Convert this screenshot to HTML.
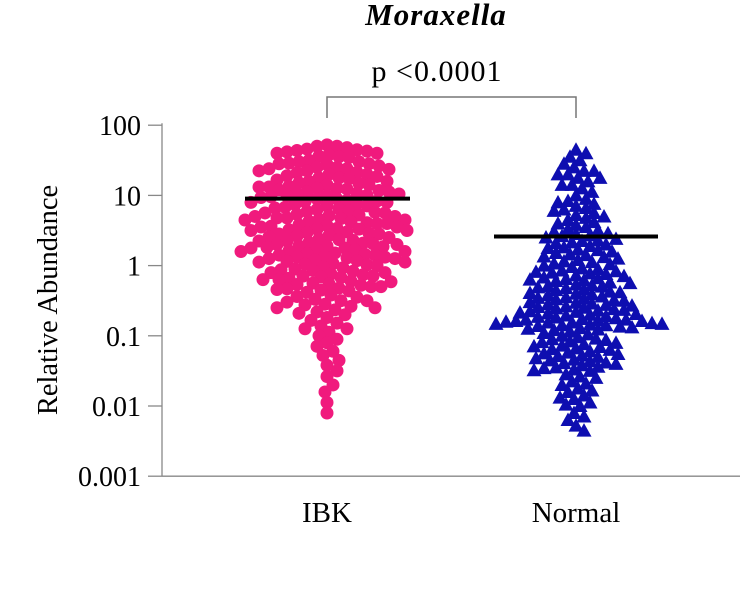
<!DOCTYPE html>
<html><head><meta charset="utf-8"><style>
body{margin:0;background:#fff}
svg{display:block;font-family:"Liberation Serif",serif}
</style></head><body>
<svg id="chart" width="744" height="602" viewBox="0 0 744 602">
<text x="436" y="25" text-anchor="middle" font-size="31" font-weight="bold" font-style="italic" letter-spacing="1">Moraxella</text>
<text x="437" y="81" text-anchor="middle" font-size="30" letter-spacing="1">p &lt;0.0001</text>
<path d="M327 118 V97 H576 V118" fill="none" stroke="#777" stroke-width="1.5"/>
<g id="axes"></g>
<g id="marks"></g>
<text transform="translate(57,300) rotate(-90)" text-anchor="middle" font-size="28.5">Relative Abundance</text>
</svg>
<script>
const categories = ["IBK","Normal"];
const tickValues = [100,10,1,0.1,0.01,0.001];
const tickLabels = ["100","10","1","0.1","0.01","0.001"];
const ibkMean = 9;
const normalMean = 2.6;
// log10 relative abundance values
const ibkLog = [1.72,1.7,1.68,1.66,1.65,1.64,1.63,1.62,1.6,1.58,1.56,1.55,1.54,1.7,1.6,
1.5,1.48,1.46,1.45,1.44,1.42,1.4,1.38,1.37,1.35,1.33,1.32,1.3,1.28,1.27,1.25,1.24,1.22,1.2,1.45,1.4,1.35,1.3,1.25,1.2,1.48,1.38,
1.18,1.15,1.12,1.1,1.08,1.05,1.02,1.0,0.98,0.95,0.92,0.9,0.88,0.85,0.82,0.8,1.15,1.1,1.05,1.0,0.95,0.9,0.85,1.12,1.02,
1.17,1.13,1.07,1.03,0.97,0.93,0.87,0.83,1.09,0.99,0.91,0.81,
0.78,0.75,0.72,0.7,0.68,0.65,0.62,0.6,0.58,0.55,0.52,0.5,0.48,0.45,0.42,0.4,0.75,0.7,0.65,0.6,0.55,0.5,0.45,0.68,0.52,
0.77,0.73,0.67,0.63,0.57,0.53,0.47,0.43,0.76,0.66,0.56,0.46,0.71,0.61,0.51,0.41,
0.38,0.35,0.32,0.3,0.28,0.25,0.22,0.2,0.18,0.15,0.12,0.1,0.08,0.05,0.02,0.0,0.35,0.3,0.25,0.2,0.15,0.1,0.05,0.28,0.12,
0.37,0.33,0.27,0.23,0.17,0.13,0.07,0.03,0.36,0.26,0.16,0.06,0.31,0.21,0.11,0.01,
-0.02,-0.05,-0.08,-0.1,-0.12,-0.15,-0.18,-0.2,-0.22,-0.25,-0.28,-0.3,-0.33,-0.36,-0.38,-0.1,-0.2,-0.3,-0.15,
-0.03,-0.07,-0.13,-0.17,-0.23,-0.27,-0.32,-0.35,-0.06,-0.16,-0.26,-0.34,
-0.42,-0.45,-0.48,-0.5,-0.52,-0.55,-0.58,-0.6,-0.63,-0.66,-0.7,-0.74,-0.78,-0.5,-0.6,-0.44,-0.56,-0.68,
-0.82,-0.86,-0.9,-0.95,-1.0,-1.05,-1.1,-1.15,-0.9,
-1.22,-1.28,-1.35,-1.42,-1.5,-1.58,-1.7,-1.8,-1.95,-2.1];
const normalLog = [1.65,1.6,1.55,1.5,1.45,1.4,1.35,1.3,1.3,1.25,1.2,1.15,1.1,1.05,1.0,1.35,1.25,1.15,
0.95,0.9,0.85,0.8,0.75,0.7,0.65,0.6,0.55,0.5,0.92,0.82,0.72,0.62,0.52,0.88,0.78,0.68,0.58,
0.48,0.45,0.42,0.4,0.38,0.35,0.32,0.3,0.28,0.25,0.22,0.2,0.18,0.15,0.12,0.1,0.08,0.05,0.02,0.0,0.46,0.36,0.26,0.16,0.06,0.43,0.33,0.23,0.13,0.03,
-0.02,-0.05,-0.08,-0.1,-0.12,-0.15,-0.18,-0.2,-0.22,-0.25,-0.28,-0.3,-0.32,-0.35,-0.38,-0.4,-0.42,-0.45,-0.48,-0.5,
-0.04,-0.09,-0.14,-0.19,-0.24,-0.29,-0.34,-0.39,-0.44,-0.49,-0.07,-0.17,-0.27,-0.37,-0.47,-0.11,-0.21,-0.31,-0.41,-0.46,
-0.52,-0.54,-0.56,-0.58,-0.6,-0.62,-0.64,-0.66,-0.68,-0.7,-0.72,-0.74,-0.76,-0.78,-0.8,-0.82,-0.84,-0.86,-0.88,-0.9,
-0.53,-0.57,-0.61,-0.65,-0.69,-0.73,-0.77,-0.81,-0.85,-0.89,-0.55,-0.63,-0.71,-0.79,-0.87,-0.92,-0.94,-0.96,-0.98,-1.0,
-0.59,-0.67,-0.75,-0.83,-0.91,-0.79,-0.81,-0.83,-0.85,-0.77,
-1.02,-1.05,-1.08,-1.1,-1.12,-1.15,-1.18,-1.2,-1.22,-1.25,-1.28,-1.3,-1.32,-1.35,-1.38,-1.4,-1.42,-1.45,-1.48,-1.5,
-1.04,-1.09,-1.14,-1.19,-1.24,-1.29,-1.34,-1.39,-1.44,-1.49,-1.06,-1.16,-1.26,-1.36,-1.46,
-1.55,-1.6,-1.65,-1.7,-1.75,-1.8,-1.85,-1.9,-1.95,-2.0,-1.58,-1.68,-1.78,-1.88,-1.98,
-2.1,-2.2,-2.28,-2.35,-2.15];

const NS="http://www.w3.org/2000/svg";
const axes=document.getElementById('axes'), marks=document.getElementById('marks');
const X0=162, X1=740, Y1=265.6, PX=70.2;
function yScale(v){return Y1-PX*Math.log10(v);}
function yLog(l){return Y1-PX*l;}
function xScale(i){return [327,576][i];}
function mk(tag,attrs,parent){const e=document.createElementNS(NS,tag);for(const k in attrs)e.setAttribute(k,attrs[k]);parent.appendChild(e);return e;}

let yl=mk('line',{x1:X0,x2:X0,y1:yScale(100)-2,y2:yScale(0.001),stroke:'#888','stroke-width':1.3},axes);


let xl=mk('line',{x1:X0,x2:X1,y1:yScale(0.001),y2:yScale(0.001),stroke:'#888','stroke-width':1.3},axes);


tickValues.forEach((v,i)=>{
  const y=yScale(v);
  let t=mk('line',{x1:X0-14,x2:X0,y1:y,y2:y,stroke:'#888','stroke-width':1.3},axes);
  
  
  let tx=mk('text',{x:X0-21,y:y+10,'text-anchor':'end','font-size':28},axes);
  tx.textContent=tickLabels[i];
  
  
});
categories.forEach((c,i)=>{
  let tx=mk('text',{x:xScale(i),y:522,'text-anchor':'middle','font-size':29},axes);
  tx.textContent=c;
  
  
});

function swarm(vals,cx,coll){
  const sorted=vals.slice().sort((a,b)=>b-a);const placed=[];
  sorted.forEach(l=>{
    const y=yLog(l);let best=null;
    for(let k=0;k<80;k++){
      const offs=k===0?[0]:[k*2,-k*2];
      for(const o of offs){
        const x=cx+o;
        if(placed.every(p=>(p.x-x)**2+(p.y-y)**2>=coll*coll)){best=x;break;}
      }
      if(best!==null)break;
    }
    placed.push({x:best,y:y});
  });
  return placed;
}
swarm(ibkLog,xScale(0),10).forEach(p=>{
  let c=mk('circle',{cx:p.x,cy:p.y,r:6.5,fill:'#f01a7d'},marks);
  
  
});
swarm(normalLog,xScale(1),9).forEach(p=>{
  const s=7.5;
  let t=mk('polygon',{points:`${p.x},${p.y-s} ${p.x-s},${p.y+s*0.8} ${p.x+s},${p.y+s*0.8}`,fill:'#0e0eb0'},marks);
  
  
});
let m1=mk('line',{x1:245,x2:410,y1:yScale(ibkMean),y2:yScale(ibkMean),stroke:'#000','stroke-width':4},marks);


let m2=mk('line',{x1:494,x2:658,y1:yScale(normalMean),y2:yScale(normalMean),stroke:'#000','stroke-width':4},marks);


</script>
</body></html>
